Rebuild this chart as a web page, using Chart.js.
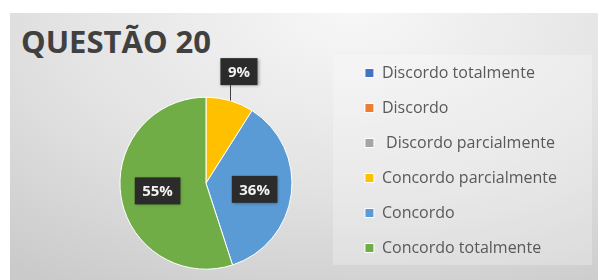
<!DOCTYPE html>
<html>
<head>
<meta charset="utf-8">
<script src="https://cdn.jsdelivr.net/npm/chart.js@4.4.1/dist/chart.umd.min.js"></script>
<style>
  html, body { margin: 0; padding: 0; background: #fff; }
  #wrap { position: relative; width: 600px; height: 280px; overflow: hidden; }
  #panel {
    position: absolute; left: 10px; top: 13px; width: 588px; height: 267px;
    background: radial-gradient(ellipse 95% 120% at 58% 0%, #f7f7f7 0%, #e2e2e2 55%, #cacaca 100%);
  }
  #legendBg {
    position: absolute; left: 333px; top: 55px; width: 259px; height: 210px;
    background: rgba(255, 255, 255, 0.25);
  }
  #title {
    position: absolute; left: 21px; top: 23px;
    font: bold 31px "Open Sans", sans-serif; line-height: 36px; color: #404040;
  }
  canvas { position: absolute; left: 0; top: 0; }
</style>
</head>
<body>
<div id="wrap">
  <div id="panel"></div>
  <div id="legendBg"></div>
  <div id="title">QUESTÃO 20</div>
  <canvas id="chart" width="600" height="280"></canvas>
</div>
<script>
const categories = ["Discordo totalmente", "Discordo", " Discordo parcialmente", "Concordo parcialmente", "Concordo", "Concordo totalmente"];
const percentages = [0, 0, 0, 9, 36, 55];
const sliceColors = ["#4472C4", "#ED7D31", "#A5A5A5", "#FFC000", "#5B9BD5", "#70AD47"];

Chart.defaults.font.family = "'Open Sans', sans-serif";

// dark boxed percentage labels, small slices get a leader line
const sliceLabels = {
  id: "sliceLabels",
  afterDatasetsDraw(chart) {
    const ctx = chart.ctx;
    const meta = chart.getDatasetMeta(0);
    ctx.save();
    ctx.font = "bold 15px 'Open Sans', sans-serif";
    ctx.textAlign = "center";
    ctx.textBaseline = "middle";
    meta.data.forEach((arc, i) => {
      const v = percentages[i];
      if (!v) return;
      const p = arc.getProps(["x", "y", "startAngle", "endAngle", "outerRadius"], true);
      const mid = (p.startAngle + p.endAngle) / 2;
      const txt = v + "%";
      const w = ctx.measureText(txt).width + 15;
      const h = 27;
      let cx, cy;
      if (v < 15) {
        const ex = p.x + Math.cos(mid) * p.outerRadius;
        const ey = p.y + Math.sin(mid) * p.outerRadius;
        cx = ex + 9;
        cy = ey - 29;
        ctx.strokeStyle = "#404040";
        ctx.lineWidth = 1;
        ctx.beginPath();
        ctx.moveTo(Math.round(ex) + 0.5, ey);
        ctx.lineTo(Math.round(ex) + 0.5, cy + h / 2);
        ctx.stroke();
      } else {
        cx = p.x + Math.cos(mid) * p.outerRadius * 0.57;
        cy = p.y + Math.sin(mid) * p.outerRadius * 0.57;
      }
      ctx.shadowColor = "rgba(0,0,0,0.35)";
      ctx.shadowBlur = 3;
      ctx.shadowOffsetX = 1;
      ctx.shadowOffsetY = 1;
      ctx.fillStyle = "#2b2b2b";
      ctx.fillRect(cx - w / 2, cy - h / 2, w, h);
      ctx.shadowColor = "transparent";
      ctx.fillStyle = "#f2f2f2";
      ctx.fillText(txt, cx, cy + 1);
    });
    ctx.restore();
  }
};

new Chart(document.getElementById("chart"), {
  type: "pie",
  data: {
    labels: categories,
    datasets: [{
      data: percentages,
      backgroundColor: sliceColors,
      borderColor: "#ffffff",
      borderWidth: 1,
      radius: 86
    }]
  },
  options: {
    responsive: false,
    animation: false,
    layout: { padding: { left: 66, right: 33, top: 46, bottom: 0 } },
    plugins: {
      // empty title only pushes the pie down, the visible title is the html one
      title: {
        display: true,
        text: "",
        fullSize: false,
        font: { size: 12 },
        padding: { top: 0, bottom: 26 }
      },
      legend: {
        position: "right",
        align: "start",
        labels: {
          boxWidth: 9,
          boxHeight: 9,
          padding: 19,
          color: "#595959",
          font: { size: 16 }
        }
      },
      tooltip: { enabled: false }
    }
  },
  plugins: [sliceLabels]
});
</script>
</body>
</html>
